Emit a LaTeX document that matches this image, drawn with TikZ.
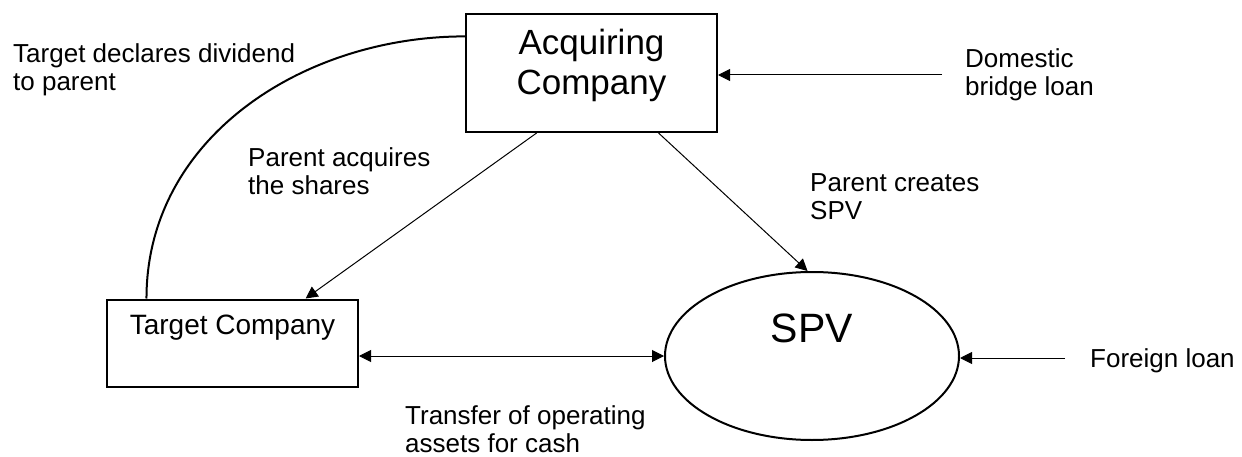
\documentclass[tikz,border=0pt]{standalone}
\usepackage{fontspec}
\setmainfont{Liberation Sans}
\usetikzlibrary{arrows.meta,shapes.geometric,calc}
\begin{document}
\begin{tikzpicture}[x=1pt,y=-1pt,
  box/.style={draw, line width=2pt, fill=white, inner sep=0pt},
  lbl/.style={font=\fontsize{26}{28}\selectfont, align=left, inner sep=0pt, anchor=north west},
  arr/.style={line width=1pt, -{Triangle[length=12pt,width=12pt]}},
  dbl/.style={line width=1pt, {Triangle[length=12pt,width=12pt]}-{Triangle[length=12pt,width=12pt]}},
  curve/.style={line width=2pt}]
\useasboundingbox (0,0) rectangle (1242,457);

% nodes
\node[box, rectangle, minimum width=251pt, minimum height=118pt] (acq) at (591.5,73) {};
\node[font=\fontsize{35}{40}\selectfont, align=center, inner sep=0pt, anchor=north] (acqtext) at ([yshift=-16pt]acq.north) {Acquiring\\Company};

\node[box, rectangle, minimum width=251pt, text height=35pt, text depth=52pt,
      font=\fontsize{28}{32}\selectfont] (tgt) at (232.5,343) {Target Company};

\node[box, ellipse, minimum width=294pt, minimum height=168pt] (spv) at (812,356) {};
\node[font=\fontsize{41}{46}\selectfont, inner sep=0pt, anchor=base] (spvtext) at ([yshift=14pt]spv.center) {SPV};

% labels
\node[lbl] (l1) at (13,43) {Target declares dividend\\to parent};
\node[lbl] (l2) at (248,147) {Parent acquires\\the shares};
\node[lbl] (l3) at (810,173) {Parent creates\\SPV};
\node[lbl] (l4) at (965,48) {Domestic\\bridge loan};
\node[lbl, anchor=base west] (l5) at (1090,367) {Foreign loan};
\node[lbl] (l6) at (405,405) {Transfer of operating\\assets for cash};

% connectors
\coordinate (cstart) at ($(acq.north west)!0.195!(acq.south west)$);
\coordinate (cend) at ($(tgt.north west)!0.16!(tgt.north east)$);
\draw[curve] (cstart) to[out=180,in=90] (cend);

\coordinate (a1) at ($(acq.south west)!0.283!(acq.south east)$);
\coordinate (t1) at ($(tgt.north west)!0.789!(tgt.north east)$);
\draw[arr] (a1) -- (t1);

\coordinate (a2) at ($(acq.south west)!0.765!(acq.south east)$);
\draw[arr] (a2) -- (spv.93);

\coordinate (domtail) at (942,75);
\draw[arr] (domtail) -- (domtail -| acq.east);

\coordinate (fortail) at (1065,358);
\draw[arr] (fortail) -- (fortail -| spv.east);

\draw[dbl] (tgt.east |- spv.west) -- (spv.west);
\end{tikzpicture}
\end{document}
